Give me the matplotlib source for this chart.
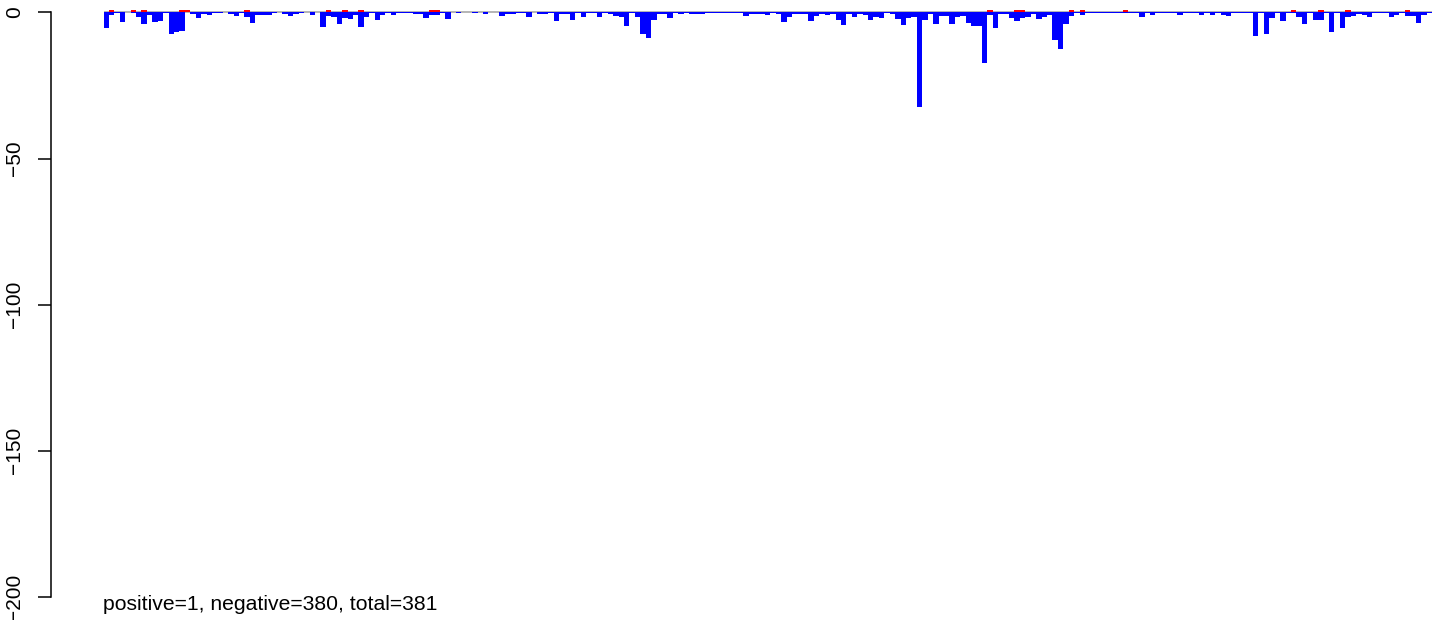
import matplotlib
matplotlib.use("Agg")
import matplotlib.pyplot as plt
import matplotlib.transforms as mtransforms
import numpy as np

# ---- data ----
neg_values = [
    -5.2, -1.0, -0.3, -3.2, 0.0, -0.2, -1.5, -4.0, -0.7, -3.2,
    -2.9, -0.3, -7.3, -6.6, -6.3, 0.0, -0.5, -1.8, -0.6, -0.9,
    -0.3, -0.3, 0.0, -0.4, -1.1, -0.3, -1.5, -3.5, -0.8, -0.8,
    -0.8, -0.3, 0.0, -0.6, -1.1, -0.4, -0.3, 0.0, -0.9, 0.0,
    -4.9, -1.2, -1.5, -4.0, -2.0, -2.3, -0.9, -4.9, -1.5, -0.3,
    -2.6, -0.9, -0.3, -0.7, -0.3, -0.2, -0.2, -0.4, -0.4, -1.8,
    -0.8, -0.8, -0.3, -2.3, 0.0, -0.1, 0.0, 0.0, -0.1, 0.0,
    -0.5, 0.0, 0.0, -1.1, -0.4, -0.4, -0.3, -0.3, -1.4, 0.0,
    -0.5, -0.5, -0.3, -2.9, -0.4, -0.4, -2.5, -0.3, -1.4, -0.2,
    -0.3, -1.4, -0.3, -0.6, -1.2, -1.5, -4.6, -0.3, -1.4, -7.3,
    -8.6, -2.6, -0.4, -0.4, -1.8, -0.3, -0.5, -0.3, -0.5, -0.5,
    -0.5, -0.3, -0.2, -0.3, -0.2, -0.3, -0.3, -0.3, -1.1, -0.4,
    -0.4, -0.4, -0.7, -0.3, -0.4, -3.1, -1.4, -0.5, -0.5, -0.5,
    -3.0, -1.3, -0.5, -0.9, -0.4, -2.6, -4.3, -0.4, -1.7, -0.4,
    -0.9, -2.6, -1.7, -1.8, -0.3, -0.5, -2.2, -4.3, -2.0, -1.7,
    -32.2, -2.4, -0.4, -3.9, -1.3, -1.3, -3.9, -1.4, -1.3, -3.5,
    -4.5, -4.6, -17.3, -0.8, -5.3, -0.4, -0.4, -1.9, -2.8, -2.0,
    -1.7, -0.4, -2.1, -1.6, -1.0, -9.3, -12.4, -3.9, -1.2, -0.3,
    -0.8, -0.3, -0.3, -0.2, -0.3, -0.1, -0.3, -0.3, -0.2, -0.3,
    -0.3, -1.4, -0.3, -0.9, -0.3, -0.3, -0.2, -0.3, -0.9, -0.3,
    -0.2, -0.3, -0.9, -0.3, -0.9, -0.1, -0.9, -1.3, -0.3, -0.2,
    -0.3, -0.2, -7.9, -0.3, -7.2, -1.8, -0.3, -2.8, -0.3, -0.2,
    -1.7, -3.9, -0.3, -2.4, -2.5, -0.3, -6.6, -0.3, -5.2, -1.5,
    -1.2, -0.5, -0.9, -1.4, -0.3, -0.3, -0.1, -1.4, -0.9, -0.3,
    -1.1, -1.1, -3.5, -0.9, -0.3,
]
red_bar_index = [1, 5, 7, 14, 15, 26, 41, 44, 47, 60, 61, 163, 168, 169,
                 178, 180, 188, 219, 224, 229, 240]
red_bar_value = 0.7
y_ticks = [0, -50, -100, -150, -200]
summary_text = "positive=1, negative=380, total=381"

# ---- layout ----
plt.rcParams['font.family'] = ['Liberation Sans', 'DejaVu Sans']
W, H = 1444, 620
fig = plt.figure(figsize=(W / 100, H / 100), dpi=100)

n = len(neg_values)
x_first, x_last = 103.5, 1432.0
ppb = (x_last - x_first) / n
axis_x = 51.0
y_zero, y_bottom = 12.5, 597.0
ppu = (y_bottom - y_zero) / 200.0

ax = fig.add_axes([axis_x / W, 0, (W - axis_x) / W, 1])
ax.set_xlim(-(x_first - axis_x) / ppb, (W - x_first) / ppb)
ax.set_ylim(-(H - y_zero) / ppu, y_zero / ppu)

idx = np.arange(n)
pos_values = np.zeros(n)
pos_values[red_bar_index] = red_bar_value

# zero reference line sits just above the bar tops
line_tr = mtransforms.offset_copy(ax.transData, fig=fig, x=0, y=0.7, units='dots')
ax.plot([0, n], [0, 0], color='#a0a0a0', lw=1.1, zorder=1,
        solid_capstyle='butt', transform=line_tr)
ax.bar(idx, neg_values, width=1.0, align='edge', color='#0000ff',
       linewidth=0, zorder=2, antialiased=False)
ax.bar(idx, pos_values, width=1.0, align='edge', color='#ff0000',
       linewidth=0, zorder=3)

for s in ['top', 'right', 'bottom']:
    ax.spines[s].set_visible(False)
ax.spines['left'].set_bounds(min(y_ticks), max(y_ticks))
ax.spines['left'].set_linewidth(1.1)
ax.set_xticks([])
ax.set_yticks(y_ticks)
ax.set_yticklabels([f"{v:d}".replace('-', '\u2212') for v in y_ticks],
                   rotation=90, va='center')
ax.tick_params(axis='y', length=9.5, width=1.1, pad=10, labelsize=15)
ax.patch.set_alpha(0)

fig.text(103 / W, 1 - 605 / H, summary_text, ha='left', va='center', fontsize=15.2)

fig.savefig('out.png', dpi=100)
